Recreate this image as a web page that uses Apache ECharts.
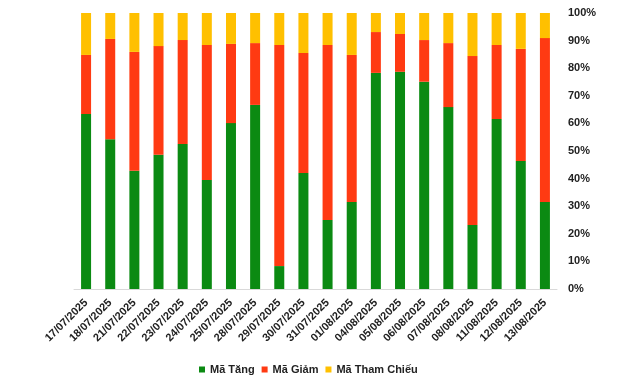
<!DOCTYPE html>
<html>
<head>
<meta charset="utf-8">
<script src="https://cdn.jsdelivr.net/npm/echarts@6/dist/echarts.min.js"></script>
<style>html,body{margin:0;padding:0;background:#fff;}#c{width:640px;height:379px;}</style>
</head>
<body>
<div id="c"></div>
<script>
var categories = ['17/07/2025','18/07/2025','21/07/2025','22/07/2025','23/07/2025','24/07/2025','25/07/2025','28/07/2025','29/07/2025','30/07/2025','31/07/2025','01/08/2025','04/08/2025','05/08/2025','06/08/2025','07/08/2025','08/08/2025','11/08/2025','12/08/2025','13/08/2025'];
var tang = [63.4,54.3,42.8,48.6,52.5,39.5,60.1,66.7,8.3,42.0,25.0,31.5,78.3,78.7,75.1,65.9,23.2,61.6,46.4,31.5];
var giam = [21.4,36.3,43.1,39.4,37.7,48.9,28.7,22.4,80.1,43.5,63.4,53.3,14.8,13.7,15.1,23.2,61.2,26.8,40.6,59.4];
var thamChieu = [15.2,9.4,14.1,12.0,9.8,11.6,11.2,10.9,11.6,14.5,11.6,15.2,6.9,7.6,9.8,10.9,15.6,11.6,13.0,9.1];
var seriesNames = ['Mã Tăng','Mã Giảm','Mã Tham Chiếu'];
var colors = ['#0B8A12','#FF3A12','#FFC000'];

var chart = echarts.init(document.getElementById('c'));
var font = 'Liberation Sans, Arial, sans-serif';
function mk(name, data, color){
  return {name:name, type:'bar', stack:'total', data:data, barWidth:10,
    itemStyle:{color:color}, emphasis:{disabled:true}};
}
chart.setOption({
  animation:false,
  color: colors,
  grid:{left:74, right:83, top:13, bottom:90},
  legend:{
    top:359, left:194, icon:'rect', itemWidth:6, itemHeight:6, itemGap:7,
    textStyle:{fontFamily:font, fontWeight:'bold', fontSize:11, color:'#222'},
    data:seriesNames
  },
  xAxis:{
    type:'category', data:categories,
    axisLine:{lineStyle:{color:'#d9d9d9'}},
    axisTick:{show:false},
    axisLabel:{rotate:45, interval:0, margin:12, fontFamily:font, fontWeight:'bold', fontSize:11, color:'#222'}
  },
  yAxis:{
    type:'value', position:'right', min:0, max:100, interval:10,
    axisLine:{show:false}, axisTick:{show:false}, splitLine:{show:false},
    axisLabel:{formatter:'{value}%', margin:11, fontFamily:font, fontWeight:'bold', fontSize:11, color:'#222'}
  },
  series:[mk(seriesNames[0], tang, colors[0]), mk(seriesNames[1], giam, colors[1]), mk(seriesNames[2], thamChieu, colors[2])]
});
</script>
</body>
</html>
